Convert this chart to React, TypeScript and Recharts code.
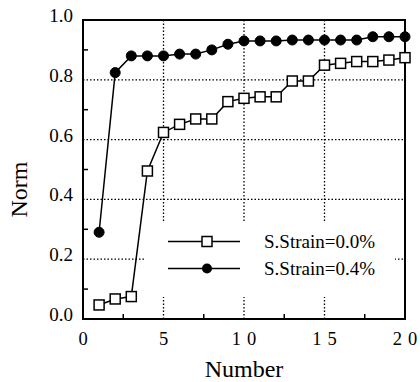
import { Legend, Line, LineChart, ReferenceArea, ReferenceLine, XAxis, YAxis } from "recharts";

const numbers = [1, 2, 3, 4, 5, 6, 7, 8, 9, 10, 11, 12, 13, 14, 15, 16, 17, 18, 19, 20];
const strain00 = [0.047, 0.067, 0.075, 0.495, 0.624, 0.651, 0.669, 0.669, 0.727, 0.738, 0.743, 0.743, 0.796, 0.796, 0.849, 0.855, 0.861, 0.861, 0.866, 0.874];
const strain04 = [0.29, 0.824, 0.88, 0.88, 0.88, 0.886, 0.886, 0.9, 0.919, 0.93, 0.93, 0.93, 0.933, 0.933, 0.933, 0.933, 0.933, 0.944, 0.944, 0.944];

const xTicks = [0, 2.5, 5, 7.5, 10, 12.5, 15, 17.5, 20];
const yTicks = [0, 0.1, 0.2, 0.3, 0.4, 0.5, 0.6, 0.7, 0.8, 0.9, 1.0];
const xGrid = [5, 10, 15];
const yGrid = [0.2, 0.4, 0.6, 0.8];

const data = numbers.map((n, i) => ({ n, s0: strain00[i], s4: strain04[i] }));

const FONT = "'Liberation Serif', 'Times New Roman', serif";

const isMajorX = (v: number) => v % 5 === 0;
const isMajorY = (v: number) => Math.round(v * 10) % 2 === 0;

function XTick({ x, y, payload }: any) {
  const v = payload.value;
  const chars = String(v).split("");
  return (
    <g>
      {!isMajorX(v) && <line x1={x} x2={x} y1={y} y2={y - 5} stroke="#000" strokeWidth={1.5} />}
      {isMajorX(v) && (
        <text x={x} y={y + 26} textAnchor="middle" fontSize={18.5} fontFamily={FONT} fill="#000">
          {chars.map((c, i) => (
            <tspan key={i} dx={i > 0 ? 6 : 0}>
              {c}
            </tspan>
          ))}
        </text>
      )}
    </g>
  );
}

function YTick({ x, y, payload }: any) {
  const v = payload.value;
  return (
    <g>
      {!isMajorY(v) && <line x1={x} x2={x + 5} y1={y} y2={y} stroke="#000" strokeWidth={1.5} />}
      {isMajorY(v) && (
        <text x={x - 10} y={y + 2} textAnchor="end" fontSize={19} fontFamily={FONT} fill="#000">
          {v.toFixed(1)}
        </text>
      )}
    </g>
  );
}

function SquareDot({ cx, cy, key }: any) {
  return <rect key={key} x={cx - 5} y={cy - 5} width={10} height={10} fill="#fff" stroke="#000" strokeWidth={1.5} />;
}

function CircleDot({ cx, cy, key }: any) {
  return <circle key={key} cx={cx} cy={cy} r={5} fill="#000" stroke="#000" />;
}

function LegendBox({ payload }: any) {
  return (
    <div style={{ background: "#fff", width: 250, height: 74, paddingTop: 4.5, boxSizing: "border-box" }}>
      {(payload || []).map((item: any) => (
        <div key={item.value} style={{ position: "relative", height: 27 }}>
          <svg width={110} height={27} style={{ position: "absolute", left: 0, top: 0 }}>
            <line x1={23} x2={95} y1={13.5} y2={13.5} stroke="#000" strokeWidth={1.5} />
            {item.dataKey === "s0" ? (
              <rect x={57} y={8.5} width={10} height={10} fill="#fff" stroke="#000" strokeWidth={1.5} />
            ) : (
              <circle cx={62} cy={13.5} r={5} fill="#000" />
            )}
          </svg>
          <span
            style={{
              position: "absolute",
              left: 119,
              top: 0,
              lineHeight: "27px",
              fontSize: 19,
              fontFamily: FONT,
              color: "#000",
              whiteSpace: "nowrap",
            }}
          >
            {item.value}
          </span>
        </div>
      ))}
    </div>
  );
}

export default function App() {
  return (
    <div style={{ position: "absolute", left: 0, top: 0, background: "#fff" }}>
      <LineChart width={420} height={382} data={data} margin={{ top: 20, right: 15, bottom: 0, left: 0 }}>
        <XAxis
          dataKey="n"
          type="number"
          domain={[0, 20]}
          ticks={xTicks}
          interval={0}
          height={63}
          axisLine={false}
          tickLine={false}
          tickSize={0}
          tickMargin={0}
          tick={<XTick />}
          label={{ value: "Number", position: "insideBottom", offset: 5, fontSize: 24, fontFamily: FONT, fill: "#000" }}
        />
        <YAxis
          type="number"
          domain={[0, 1]}
          ticks={yTicks}
          interval={0}
          width={83}
          axisLine={false}
          tickLine={false}
          tickSize={0}
          tickMargin={0}
          tick={<YTick />}
          label={{
            content: ({ viewBox }: any) => (
              <text
                transform={`translate(${viewBox.x + 27}, ${viewBox.y + viewBox.height / 2 + 20}) rotate(-90)`}
                textAnchor="middle"
                fontSize={24}
                fontFamily={FONT}
                fill="#000"
              >
                Norm
              </text>
            ),
          }}
        />
        {yGrid.map((v) => (
          <ReferenceLine key={`y${v}`} y={v} stroke="#000" strokeWidth={1.3} strokeDasharray="1.5 2" />
        ))}
        {xGrid.map((v) => (
          <ReferenceLine key={`x${v}`} x={v} stroke="#000" strokeWidth={1.3} strokeDasharray="1.5 2" />
        ))}
        <ReferenceArea x1={0} x2={20} y1={0} y2={1} fill="none" stroke="#000" strokeWidth={2} />
        <Line
          dataKey="s0"
          name="S.Strain=0.0%"
          stroke="#000"
          strokeWidth={1.5}
          dot={<SquareDot />}
          isAnimationActive={false}
        />
        <Line
          dataKey="s4"
          name="S.Strain=0.4%"
          stroke="#000"
          strokeWidth={1.5}
          dot={<CircleDot />}
          isAnimationActive={false}
        />
        <Legend
          layout="horizontal"
          verticalAlign="middle"
          align="center"
          content={<LegendBox />}
          wrapperStyle={{ position: "absolute", left: 145, top: 223, width: 250, height: 74 }}
        />
      </LineChart>
    </div>
  );
}
